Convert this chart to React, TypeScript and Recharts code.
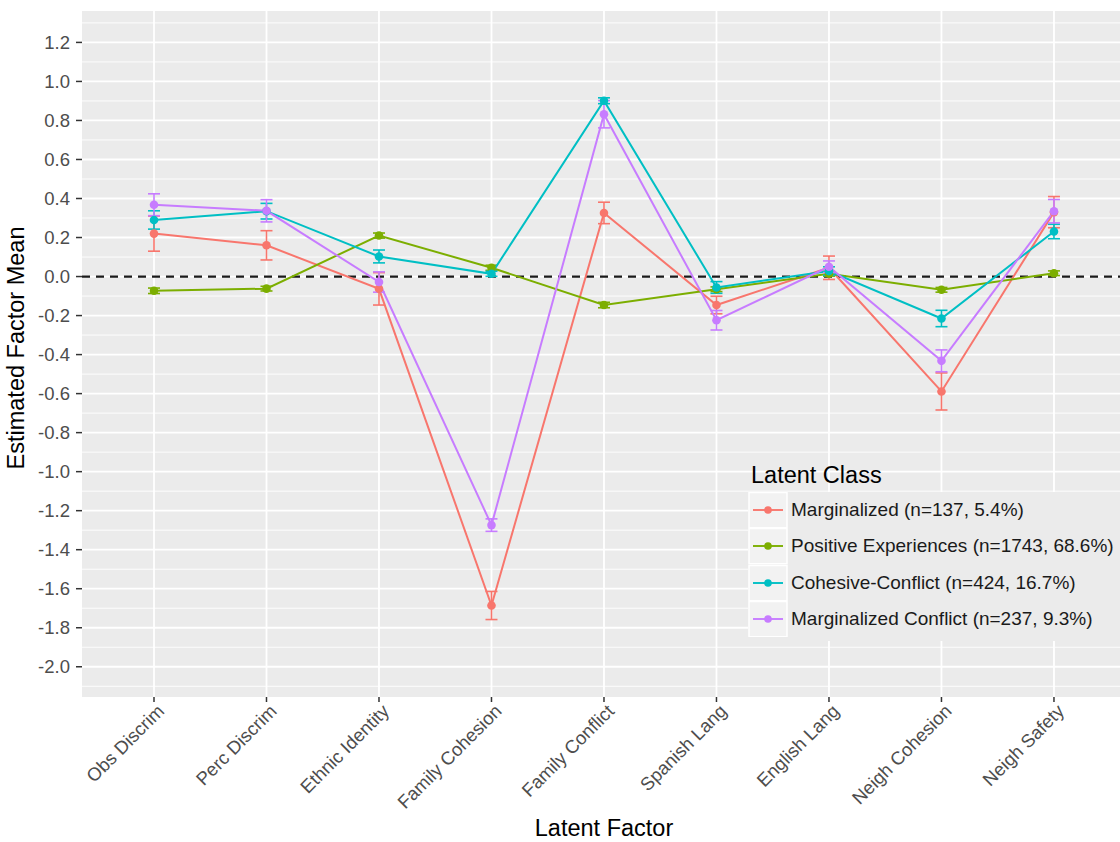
import React from 'react';
import {
  LineChart, Line, XAxis, YAxis, CartesianGrid, ReferenceLine, ErrorBar, Legend
} from 'recharts';

const FONT = "'Liberation Sans', Arial, Helvetica, sans-serif";

const categories = [
  'Obs Discrim', 'Perc Discrim', 'Ethnic Identity', 'Family Cohesion', 'Family Conflict',
  'Spanish Lang', 'English Lang', 'Neigh Cohesion', 'Neigh Safety',
];

// estimated factor means per latent class, and half-widths of the error bars
const marginalized = [0.22, 0.16, -0.063, -1.686, 0.326, -0.146, 0.045, -0.589, 0.33];
const marginalizedErr = [0.09, 0.075, 0.083, 0.072, 0.055, 0.045, 0.06, 0.095, 0.08];
const positive = [-0.073, -0.062, 0.21, 0.045, -0.146, -0.065, 0.014, -0.068, 0.017];
const positiveErr = [0.014, 0.012, 0.013, 0.013, 0.014, 0.012, 0.012, 0.012, 0.012];
const cohesive = [0.29, 0.335, 0.103, 0.014, 0.901, -0.056, 0.028, -0.215, 0.231];
const cohesiveErr = [0.047, 0.04, 0.033, 0.013, 0.015, 0.03, 0.022, 0.042, 0.037];
const margConflict = [0.368, 0.337, -0.028, -1.274, 0.832, -0.224, 0.05, -0.432, 0.335];
const margConflictErr = [0.056, 0.057, 0.052, 0.032, 0.07, 0.05, 0.03, 0.056, 0.06];

const majorBreaks = [1.2, 1.0, 0.8, 0.6, 0.4, 0.2, 0, -0.2, -0.4, -0.6, -0.8, -1.0, -1.2, -1.4, -1.6, -1.8, -2.0];
const minorBreaks = [1.3, 1.1, 0.9, 0.7, 0.5, 0.3, 0.1, -0.1, -0.3, -0.5, -0.7, -0.9, -1.1, -1.3, -1.5, -1.7, -1.9, -2.1];
const catIndex = [0, 1, 2, 3, 4, 5, 6, 7, 8];

const series = [
  { key: 'marg', name: 'Marginalized (n=137, 5.4%)', color: '#F8766D', values: marginalized, err: marginalizedErr },
  { key: 'pos', name: 'Positive Experiences (n=1743, 68.6%)', color: '#7CAE00', values: positive, err: positiveErr },
  { key: 'coh', name: 'Cohesive-Conflict (n=424, 16.7%)', color: '#00BFC4', values: cohesive, err: cohesiveErr },
  { key: 'mc', name: 'Marginalized Conflict (n=237, 9.3%)', color: '#C77CFF', values: margConflict, err: margConflictErr },
];

const chartData = categories.map((c, i) => {
  const row: Record<string, number | string> = { idx: i, category: c };
  series.forEach(s => {
    row[s.key] = s.values[i];
    row[s.key + 'Err'] = s.err[i];
  });
  return row;
});

const XTick = (props: any) => {
  const { x, y, payload } = props;
  return (
    <g transform={`translate(${x + 2},${y - 1})`}>
      <text transform="rotate(-45)" textAnchor="end" dy="0.71em" fill="#4D4D4D" fontSize={18.5} fontFamily={FONT}>
        {categories[payload.value]}
      </text>
    </g>
  );
};

// legend keeps the class order of the series list
const LegendBox = () => (
  <div style={{ fontFamily: FONT }}>
    <div style={{ fontSize: 23.5, color: '#000', height: 34, lineHeight: '34px', paddingLeft: 3 }}>Latent Class</div>
    <div style={{ background: '#EBEBEB', paddingBottom: 4 }}>
      {series.map(s => (
        <div key={s.key} style={{ display: 'flex', alignItems: 'center', height: 36.3 }}>
          <svg width={40} height={36.3} style={{ display: 'block' }}>
            <rect x={1} y={0.5} width={38} height={35.3} fill="#F2F2F2" stroke="#FFFFFF" strokeWidth={1.5} />
            <line x1={5} x2={35} y1={18} y2={18} stroke={s.color} strokeWidth={1.9} />
            <circle cx={20} cy={18} r={3.8} fill={s.color} />
          </svg>
          <span style={{ fontSize: 19, color: '#1A1A1A', marginLeft: 3, whiteSpace: 'nowrap' }}>{s.name}</span>
        </div>
      ))}
    </div>
  </div>
);

const App: React.FC = () => {
  return (
    <div style={{ position: 'absolute', left: 0, top: 0, width: 1120, height: 842, overflow: 'hidden', background: '#fff' }}>
      <LineChart width={1120} height={842} data={chartData} margin={{ top: 11, right: 0, left: 0, bottom: 0 }}>
        <CartesianGrid fill="#EBEBEB" stroke="#FFFFFF" strokeWidth={0.9} horizontalValues={minorBreaks} vertical={false} />
        <CartesianGrid stroke="#FFFFFF" strokeWidth={1.8} horizontalValues={majorBreaks} verticalValues={catIndex} />
        <XAxis
          dataKey="idx"
          type="number"
          domain={[-0.64, 8.587]}
          allowDataOverflow
          ticks={catIndex}
          interval={0}
          tick={<XTick />}
          tickLine={{ stroke: '#333333', strokeWidth: 1.5 }}
          tickSize={5}
          tickMargin={2}
          axisLine={false}
          height={145}
          label={{
            content: () => (
              <text x={604} y={836} textAnchor="middle" fontSize={23.5} fill="#000" fontFamily={FONT}>Latent Factor</text>
            ),
          }}
        />
        <YAxis
          type="number"
          domain={[-2.155, 1.361]}
          allowDataOverflow
          ticks={majorBreaks}
          interval={0}
          tickFormatter={(v: number) => v.toFixed(1)}
          tick={{ fill: '#4D4D4D', fontSize: 18.5, fontFamily: FONT }}
          tickLine={{ stroke: '#333333', strokeWidth: 1.5 }}
          tickSize={6}
          tickMargin={6}
          axisLine={false}
          width={82}
          label={{
            content: () => (
              <text x={24} y={348} transform="rotate(-90 24 348)" textAnchor="middle" fontSize={23.5} fill="#000" fontFamily={FONT}>
                Estimated Factor Mean
              </text>
            ),
          }}
        />
        <ReferenceLine y={0} stroke="#1A1A1A" strokeWidth={2.2} strokeDasharray="8 6" />
        {series.map(s => (
          <Line
            key={s.key}
            type="linear"
            dataKey={s.key}
            name={s.name}
            stroke={s.color}
            strokeWidth={2}
            dot={{ r: 4.3, fill: s.color, stroke: s.color, strokeWidth: 0 }}
            activeDot={false}
            isAnimationActive={false}
          >
            <ErrorBar dataKey={s.key + 'Err'} width={6} stroke={s.color} strokeWidth={1.6} direction="y" isAnimationActive={false} />
          </Line>
        ))}
        <Legend
          layout="vertical"
          align="center"
          verticalAlign="middle"
          content={<LegendBox />}
          wrapperStyle={{ left: 748, top: 458, width: 372 }}
        />
      </LineChart>
    </div>
  );
};

export default App;
